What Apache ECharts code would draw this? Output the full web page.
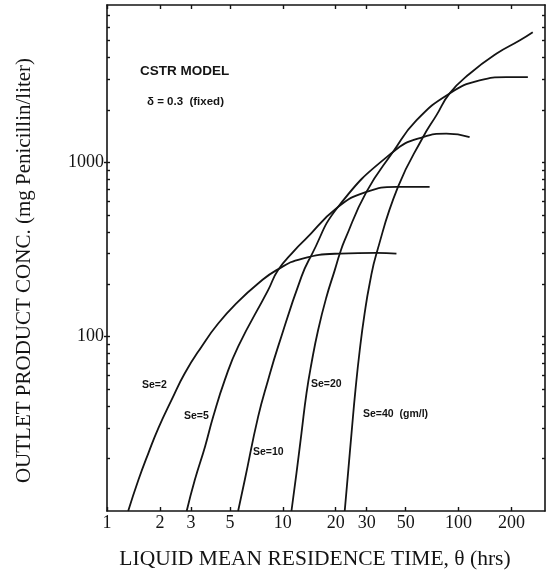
<!DOCTYPE html>
<html><head><meta charset="utf-8">
<script src="https://cdn.jsdelivr.net/npm/echarts@6/dist/echarts.min.js"></script>
<style>html,body{margin:0;padding:0;background:#fff}#c{width:552px;height:575px}</style>
</head><body><div id="c"></div>
<script>
// Residence time θ (hrs) and outlet product conc. (mg/l) for each substrate level Se
const thetaSe2 = [1.32, 1.51, 1.72, 1.96, 2.33, 2.77, 3.45, 4.29, 5.57, 7.24, 9.21, 12.8, 21.1, 34.1, 44.3];
const concSe2  = [10, 15.1, 21.5, 29.9, 43.4, 61.7, 87.7, 119, 159, 202, 241, 280, 300, 303, 300];

const thetaSe5 = [2.84, 3.16, 3.61, 4.02, 4.68, 5.57, 8.25, 9.40, 11.7, 13.3, 20.6, 29.9, 44.3, 68.4];
const concSe5  = [10, 15.1, 23.4, 34.8, 56.5, 87.7, 185, 241, 314, 358, 555, 677, 723, 723];

const thetaSe10 = [5.57, 6.08, 7.24, 8.25, 9.40, 12.77, 14.56, 20.6, 42.3, 62.8, 85.1, 115.5];
const concSe10  = [10, 15.1, 34.8, 56.5, 87.7, 221, 294, 555, 1147, 1398, 1462, 1398];

const thetaSe20 = [11.2, 11.96, 12.77, 13.64, 14.56, 15.87, 17.71, 19.75, 21.1, 22.5, 29.9, 42.3, 57.5, 88.9, 131.6, 186.6, 247.7];
const concSe20  = [10, 16.5, 28.0, 47.4, 70.4, 109, 169, 241, 300, 358, 677, 1147, 1742, 2488, 2953, 3085, 3085];

const thetaSe40 = [22.5, 23.5, 24.6, 25.9, 27.4, 29.2, 31.2, 34.1, 45.2, 62.8, 74.7, 88.9, 115.5, 163.7, 222, 264];
const concSe40  = [10, 16.5, 28.0, 49.5, 83.9, 136, 202, 300, 723, 1398, 1861, 2488, 3226, 4200, 5003, 5585];

const seriesNames = ['Se=2', 'Se=5', 'Se=10', 'Se=20', 'Se=40 (gm/l)'];

// Axis ticks and labels
const xTickLabels = [1, 2, 3, 5, 10, 20, 30, 50, 100, 200];
const yTickLabels = [100, 1000];
const yTicks = [20, 30, 40, 50, 60, 70, 80, 90, 100, 200, 300, 400, 500, 600, 700, 800, 900, 1000, 2000, 3000, 4000, 5000, 6000, 7000];

const xTitle = 'LIQUID MEAN RESIDENCE TIME, θ (hrs)';
const yTitle = 'OUTLET PRODUCT CONC. (mg Penicillin/liter)';

const zip = (xs, ys) => xs.map((x, i) => [x, ys[i]]);
const ink = '#141414';
const serif = '"Liberation Serif", "DejaVu Serif", serif';
const sans = '"Liberation Sans", Arial, sans-serif';

const chart = echarts.init(document.getElementById('c'), null, {renderer: 'canvas'});

const baseX = {
  type: 'log', logBase: 10, min: 1, max: 310,
  splitLine: {show: false}, minorTick: {show: false}, minorSplitLine: {show: false},
  axisLine: {show: true, lineStyle: {color: ink, width: 1.6}},
  axisTick: {show: true, inside: true, length: 4, customValues: xTickLabels, lineStyle: {color: ink, width: 1.4}}
};
const baseY = {
  type: 'log', logBase: 10, min: 10, max: 8000,
  splitLine: {show: false}, minorTick: {show: false}, minorSplitLine: {show: false},
  axisLine: {show: true, lineStyle: {color: ink, width: 1.6}},
  axisTick: {show: true, inside: true, length: 3, customValues: yTicks, lineStyle: {color: ink, width: 1.4}}
};

const lineSeries = [
  [thetaSe2, concSe2], [thetaSe5, concSe5], [thetaSe10, concSe10], [thetaSe20, concSe20], [thetaSe40, concSe40]
].map((p, i) => ({
  name: seriesNames[i], type: 'line', xAxisIndex: 0, yAxisIndex: 0,
  data: zip(p[0], p[1]), showSymbol: false, smooth: 0.5,
  lineStyle: {color: ink, width: 1.8}, silent: true
}));

const labelFont = (size) => 'bold ' + size + 'px ' + sans;

chart.setOption({
  animation: false,
  backgroundColor: '#fff',
  grid: {left: 107, top: 5, width: 438, height: 507, containLabel: false},
  xAxis: [
    Object.assign({}, baseX, {
      position: 'bottom',
      axisLabel: {show: true, customValues: xTickLabels, formatter: v => String(Math.round(v)),
        fontFamily: serif, fontSize: 18, color: ink, margin: 3},
      name: xTitle, nameLocation: 'middle', nameGap: 37,
      nameTextStyle: {fontFamily: serif, fontSize: 21.5, color: ink, padding: [0, 22, 0, 0]}
    }),
    Object.assign({}, baseX, {position: 'top', axisLabel: {show: false}})
  ],
  yAxis: [
    Object.assign({}, baseY, {
      position: 'left',
      axisLabel: {show: true, customValues: yTickLabels, formatter: v => String(Math.round(v)),
        fontFamily: serif, fontSize: 18, color: ink, margin: 3},
      name: yTitle, nameLocation: 'middle', nameGap: 72, nameRotate: 90,
      nameTextStyle: {fontFamily: serif, fontSize: 21, color: ink, padding: [0, 25, 0, 0]}
    }),
    Object.assign({}, baseY, {position: 'right', axisLabel: {show: false}}),
    Object.assign({}, baseY, {position: 'left', axisLine: {show: false}, axisLabel: {show: false},
      axisTick: {show: true, inside: false, length: 3, customValues: yTickLabels, lineStyle: {color: ink, width: 1.4}}})
  ],
  series: lineSeries,
  graphic: [
    {type: 'text', left: 140, top: 64, style: {text: 'CSTR MODEL', font: labelFont(13.5), fill: ink}},
    {type: 'text', left: 147, top: 96, style: {text: 'δ = 0.3  (fixed)', font: labelFont(11.5), fill: ink}},
    {type: 'text', left: 142, top: 380, style: {text: seriesNames[0], font: labelFont(10.5), fill: ink}},
    {type: 'text', left: 184, top: 411, style: {text: seriesNames[1], font: labelFont(10.5), fill: ink}},
    {type: 'text', left: 253, top: 447, style: {text: seriesNames[2], font: labelFont(10.5), fill: ink}},
    {type: 'text', left: 311, top: 379, style: {text: seriesNames[3], font: labelFont(10.5), fill: ink}},
    {type: 'text', left: 363, top: 409, style: {text: 'Se=40  (gm/l)', font: labelFont(10.5), fill: ink}}
  ]
});
</script>
</body></html>
